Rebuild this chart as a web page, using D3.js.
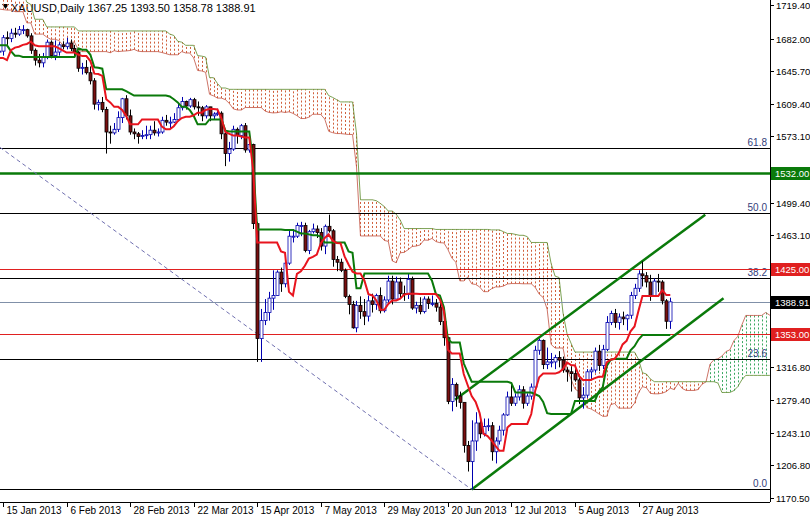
<!DOCTYPE html>
<html><head><meta charset="utf-8">
<script src="https://cdn.jsdelivr.net/npm/d3@7"></script>
<style>body{margin:0;background:#fff}svg{display:block}text{font-family:"Liberation Sans",Arial,sans-serif}</style>
</head><body><svg id="c" width="810" height="518"></svg>
<script>
// ---- data ----
const title = "XAUUSD,Daily  1367.25 1393.50 1358.78 1388.91";
// warm-up bars (24 Sep 2012 - 11 Jan 2013), highs / lows only, for Ichimoku
const warmHigh = [1768,1770,1768,1780,1782, 1788,1785,1780,1796,1798, 1785,1780,1770,1772,1772, 1745,1752,1755,1750,1740,
 1732,1718,1710,1719,1715, 1715,1718,1723,1722,1715, 1688,1718,1718,1730,1738, 1732,1730,1735,1725,1718,
 1735,1735,1735,1735,1752, 1755,1748,1745,1732,1730, 1720,1700,1702,1700,1705, 1712,1715,1723,1710,1700,
 1700,1695,1670,1668,1660, 1662,1660,1665,1665,1665, 1677,1678,1695,1695,1670, 1663,1665,1663,1680,1680];
const warmLow = [1755,1755,1750,1750,1765, 1770,1770,1768,1775,1775, 1768,1760,1755,1758,1755, 1735,1736,1745,1735,1720,
 1718,1705,1700,1700,1700, 1705,1705,1710,1710,1675, 1672,1683,1705,1710,1725, 1720,1712,1720,1710,1705,
 1712,1720,1722,1725,1730, 1745,1728,1735,1720,1710, 1690,1690,1690,1685,1695, 1700,1705,1705,1690,1690,
 1690,1660,1660,1635,1638, 1650,1655,1655,1655,1650, 1655,1670,1680,1670,1626, 1645,1653,1650,1653,1655];
// visible daily bars, 14 Jan 2013 - 6 Sep 2013
const closes = [1668,1683,1682,1688,1687, 1692,1692,1685,1669,1658, 1655,1662,1678,1663,1667, 1675,1673,1677,1671,1667,
 1649,1650,1644,1635,1609, 1611,1603,1578,1577,1581, 1594,1615,1596,1578,1576, 1573,1574,1575,1580,1577,
 1578,1591,1589,1589,1592, 1605,1612,1607,1614,1606, 1605,1596,1606,1596,1598, 1599,1576,1554,1559,1581,
 1574,1585,1558,1564,1476, 1348,1368,1377,1393,1396, 1422,1409,1432,1462,1462, 1474,1474,1446,1467,1470,
 1466,1451,1473,1468,1436, 1433,1424,1395,1386,1360, 1385,1378,1373,1390,1386, 1396,1379,1391,1412,1392,
 1411,1398,1397,1414,1382, 1385,1378,1392,1387,1387, 1383,1367,1349,1278,1297, 1284,1277,1229,1211,1234,
 1254,1242,1250,1251,1222, 1234,1246,1263,1283,1276, 1283,1291,1276,1284,1294, 1335,1346,1319,1322,1322,
 1327,1324,1313,1311,1309, 1302,1282,1285,1311,1313, 1334,1318,1336,1366,1376, 1366,1372,1370,1374,1396,
 1404,1420,1418,1411,1396, 1412,1411,1390,1367.25,1388.91];
const highs = [1675,1686,1690,1693,1694, 1696,1697,1693,1688,1671, 1665,1666,1681,1680,1680, 1678,1679,1683,1681,1675,
 1668,1655,1658,1651,1638, 1614,1617,1606,1585,1588, 1601,1616,1619,1603,1582, 1578,1580,1585,1585,1590,
 1582,1595,1597,1595,1599, 1610,1617,1613,1616,1616, 1612,1607,1608,1606,1600, 1604,1601,1578,1567,1585,
 1583,1587,1588,1568,1565, 1478,1381,1392,1400,1424, 1424,1427,1435,1469,1470, 1477,1478,1477,1469,1476,
 1474,1471,1475,1486,1470, 1440,1437,1426,1397,1390, 1390,1395,1392,1396,1398, 1398,1405,1395,1418,1418,
 1417,1416,1407,1420,1417, 1389,1394,1395,1395,1396, 1392,1388,1375,1350,1304, 1299,1289,1277,1234,1257,
 1266,1261,1259,1259,1255, 1238,1251,1265,1289,1297, 1287,1296,1295,1287,1298, 1340,1348,1347,1338,1332,
 1330,1334,1328,1316,1317, 1314,1305,1294,1314,1316, 1338,1341,1341,1373,1379, 1381,1376,1378,1375,1400,
 1409,1424,1434,1422,1419, 1415,1420,1413,1392,1393.5];
const lows = [1660,1663,1675,1678,1683, 1685,1687,1683,1665,1652, 1650,1650,1659,1660,1658, 1663,1670,1670,1668,1661,
 1645,1642,1642,1631,1603, 1602,1600,1554,1565,1575, 1578,1588,1592,1575,1570, 1565,1570,1570,1570,1574,
 1573,1576,1585,1582,1588, 1590,1602,1603,1605,1603, 1596,1590,1593,1590,1592, 1596,1570,1540,1545,1557,
 1565,1570,1555,1555,1470, 1322,1322,1363,1368,1380, 1396,1400,1405,1430,1455, 1460,1462,1444,1442,1465,
 1460,1446,1442,1466,1428, 1423,1422,1393,1375,1359, 1355,1370,1363,1367,1377, 1380,1376,1377,1388,1386,
 1392,1392,1390,1392,1380, 1376,1375,1376,1381,1384, 1378,1363,1340,1275,1267, 1272,1270,1221,1200,1180,
 1223,1237,1239,1245,1212, 1209,1230,1240,1262,1273, 1273,1279,1270,1273,1280, 1295,1330,1314,1314,1316,
 1314,1316,1310,1300,1289, 1300,1275,1270,1282,1302, 1310,1312,1314,1334,1363, 1360,1358,1363,1357,1370,
 1392,1400,1406,1405,1390, 1395,1400,1386,1358.78,1358.78];
const dateLabels = [[1,"15 Jan 2013"],[17,"6 Feb 2013"],[33,"28 Feb 2013"],[49,"22 Mar 2013"],[65,"15 Apr 2013"],
 [81,"7 May 2013"],[97,"29 May 2013"],[113,"20 Jun 2013"],[129,"12 Jul 2013"],[145,"5 Aug 2013"],[161,"27 Aug 2013"]];
const priceTicks = [1719.40,1682.00,1645.70,1609.40,1573.10,1499.40,1463.10,1316.80,1279.40,1243.10,1206.80,1170.50];
const fibLow = 1180, fibHigh = 1795.4;
const fibLevels = [0, 23.6, 38.2, 50.0, 61.8];
const levelLines = [[1532.00,"#0a7a0a",2.5,"1532.00","#0a7a0a"],[1425.00,"#e02020",1,"1425.00","#e02020"],[1388.91,"#8090a8",1,"1388.91","#000"],[1353.00,"#e02020",1,"1353.00","#e02020"]];
const channel = [[[119,1180],[182.4,1393]],[[114.8,1280],[177.8,1486]]];
const dashLine = [[0.2,1561],[119,1180]];

// ---- chart ----
const svg = d3.select("#c");
const W = 770, H = 502;
const x = d3.scaleLinear().domain([1,161]).range([3,638.5]);
const y = d3.scaleLinear().domain([1170.50,1719.40]).range([498,5]);
svg.append("defs").append("clipPath").attr("id","pc").append("rect").attr("width",W).attr("height",H);
const g = svg.append("g").attr("clip-path","url(#pc)");

// title
g.append("path").attr("d","M2,4 L9,4 L5.5,9 Z").attr("fill","#000");
g.append("text").attr("x",11).attr("y",12).attr("font-size",11).text(title);

// ichimoku
const allH = warmHigh.concat(highs), allL = warmLow.concat(lows), OFF = warmHigh.length;
const mid = (gi,n)=>{const s=Math.max(0,gi-n+1);return (d3.max(allH.slice(s,gi+1))+d3.min(allL.slice(s,gi+1)))/2;};
const tenkan = closes.map((_,i)=>[i,mid(i+OFF,9)]);
const kijun = closes.map((_,i)=>[i,mid(i+OFF,26)]);
const cloud = [];
for(let i=0;i<closes.length+26;i++){const gs=i+OFF-26;cloud.push({i,a:(mid(gs,9)+mid(gs,26))/2,b:mid(gs,52)});}
// dotted hatch: one dotted vertical stroke per bar
g.append("g").selectAll("line").data(cloud).join("line")
 .attr("x1",d=>Math.round(x(d.i))+0.5).attr("x2",d=>Math.round(x(d.i))+0.5)
 .attr("y1",d=>y(d.a)).attr("y2",d=>y(d.b))
 .attr("stroke",d=>d.a>=d.b?"#3aa860":"#d0603c").attr("stroke-width",1).attr("stroke-dasharray","2,2");
g.append("path").datum(cloud).attr("fill","none").attr("stroke","#c05040").attr("stroke-width",0.8)
 .attr("d",d3.line().x(d=>x(d.i)).y(d=>y(d.a)));
g.append("path").datum(cloud).attr("fill","none").attr("stroke","#5a8a2a").attr("stroke-width",0.8)
 .attr("d",d3.line().x(d=>x(d.i)).y(d=>y(d.b)));

// fib lines
fibLevels.forEach(l=>{const p=fibLow+(fibHigh-fibLow)*l/100, yy=Math.round(y(p))+0.5;
 g.append("line").attr("x1",0).attr("x2",W).attr("y1",yy).attr("y2",yy).attr("stroke","#000").attr("stroke-width",1);
 g.append("text").attr("x",767).attr("y",yy-3).attr("text-anchor","end").attr("font-size",10).attr("fill","#33407a").text(l.toFixed(1));
});
levelLines.forEach(([p,c,w])=>{const yy=Math.round(y(p))+0.5;
 g.append("line").attr("x1",0).attr("x2",W).attr("y1",yy).attr("y2",yy).attr("stroke",c).attr("stroke-width",w);});

// dashed diagonal & channel
const ln = d3.line().x(d=>x(d[0])).y(d=>y(d[1]));
g.append("path").attr("d",ln(dashLine)).attr("stroke","#7070b0").attr("stroke-dasharray","4,3").attr("fill","none");
channel.forEach(c=>g.append("path").attr("d",ln(c)).attr("stroke","#0a7a0a").attr("stroke-width",2.5).attr("fill","none"));

// candles
closes.forEach((c,i)=>{const o=i>0?closes[i-1]:c, up=c>=o, cx=Math.round(x(i))+0.5;
 g.append("line").attr("x1",cx).attr("x2",cx).attr("y1",y(highs[i])).attr("y2",y(lows[i])).attr("stroke",up?"#0000b0":"#000");
 const t=y(Math.max(o,c)), b=y(Math.min(o,c));
 g.append("rect").attr("x",cx-1.5).attr("y",t).attr("width",3).attr("height",Math.max(1,b-t))
  .attr("fill",up?"#fff":"#7a1010").attr("stroke",up?"#0000b0":"#000").attr("stroke-width",0.8);
});
// tenkan / kijun
g.append("path").datum(kijun).attr("d",ln).attr("stroke","#0a7a0a").attr("stroke-width",2).attr("fill","none");
g.append("path").datum(tenkan).attr("d",ln).attr("stroke","#e8141e").attr("stroke-width",2).attr("fill","none");

// axes
svg.append("line").attr("x1",W+0.5).attr("x2",W+0.5).attr("y1",0).attr("y2",H).attr("stroke","#000");
svg.append("line").attr("x1",0).attr("x2",W).attr("y1",H+0.5).attr("y2",H+0.5).attr("stroke","#000");
priceTicks.forEach(p=>{const yy=Math.round(y(p))+0.5;
 svg.append("line").attr("x1",W).attr("x2",W+4).attr("y1",yy).attr("y2",yy).attr("stroke","#000");
 svg.append("text").attr("x",W+6).attr("y",Math.max(yy+3.5,9)).attr("font-size",9.5).text(p.toFixed(2));});
dateLabels.forEach(([i,l])=>{const xx=Math.round(x(i))+0.5;
 svg.append("line").attr("x1",xx).attr("x2",xx).attr("y1",H).attr("y2",H+5).attr("stroke","#000");
 svg.append("text").attr("x",xx+3).attr("y",H+12).attr("font-size",10).text(l);});
levelLines.forEach(([p,c,w,t,bg])=>{const yy=Math.round(y(p));
 svg.append("rect").attr("x",W+1).attr("y",yy-6).attr("width",39).attr("height",13).attr("fill",bg);
 svg.append("text").attr("x",W+5).attr("y",yy+3.5).attr("font-size",9.5).attr("fill","#fff").text(t);});
</script></body></html>
